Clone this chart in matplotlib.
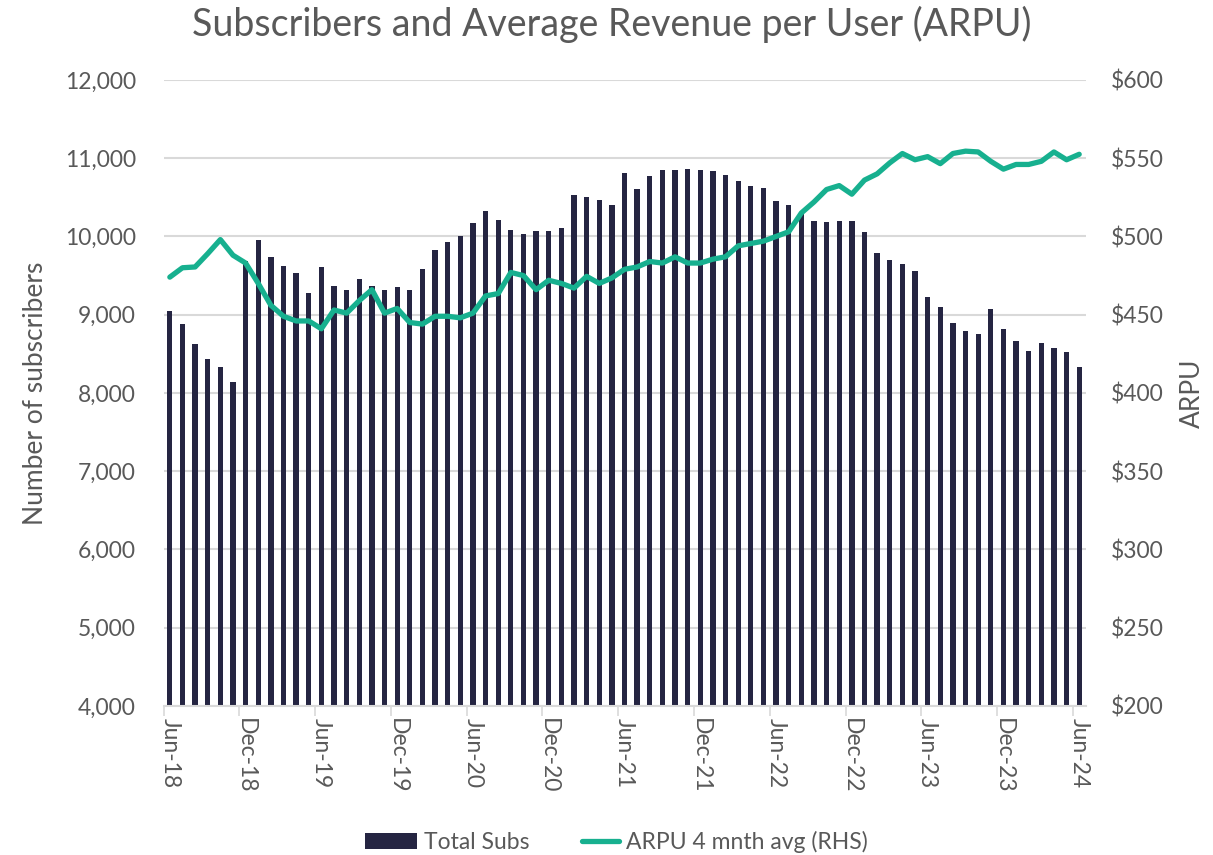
import matplotlib
matplotlib.use("Agg")
import matplotlib.pyplot as plt
import numpy as np
from matplotlib.ticker import FuncFormatter
from matplotlib.legend_handler import HandlerLine2D

months = ["Jun-18","Jul-18","Aug-18","Sep-18","Oct-18","Nov-18","Dec-18",
          "Jan-19","Feb-19","Mar-19","Apr-19","May-19","Jun-19","Jul-19","Aug-19","Sep-19","Oct-19","Nov-19","Dec-19",
          "Jan-20","Feb-20","Mar-20","Apr-20","May-20","Jun-20","Jul-20","Aug-20","Sep-20","Oct-20","Nov-20","Dec-20",
          "Jan-21","Feb-21","Mar-21","Apr-21","May-21","Jun-21","Jul-21","Aug-21","Sep-21","Oct-21","Nov-21","Dec-21",
          "Jan-22","Feb-22","Mar-22","Apr-22","May-22","Jun-22","Jul-22","Aug-22","Sep-22","Oct-22","Nov-22","Dec-22",
          "Jan-23","Feb-23","Mar-23","Apr-23","May-23","Jun-23","Jul-23","Aug-23","Sep-23","Oct-23","Nov-23","Dec-23",
          "Jan-24","Feb-24","Mar-24","Apr-24","May-24","Jun-24"]

total_subs = [9050, 8880, 8620, 8440, 8330, 8140, 9680,
              9960, 9740, 9620, 9530, 9275, 9610, 9370, 9310, 9455, 9370, 9315, 9350,
              9310, 9580, 9830, 9925, 10005, 10175, 10320, 10205, 10080, 10025, 10070, 10070,
              10110, 10535, 10510, 10465, 10405, 10810, 10610, 10775, 10845, 10845, 10865, 10855,
              10840, 10790, 10705, 10645, 10620, 10455, 10405, 10300, 10200, 10180, 10195, 10195,
              10060, 9790, 9695, 9645, 9555, 9225, 9100, 8900, 8790, 8755, 9075, 8820,
              8670, 8535, 8635, 8580, 8525, 8330]

arpu_4m = [474, 480, 480.5, 489, 498, 488, 483,
           470, 456, 449, 446, 446, 441, 453, 451, 459, 466, 451, 454,
           445, 444, 449, 449, 448, 451, 462, 463.5, 477, 475, 466, 472,
           470, 467, 474.5, 470, 473.5, 479, 480.5, 484, 483, 487, 483, 483,
           485.5, 487, 494, 495.5, 497, 500, 503, 515, 522, 530, 532.5, 527,
           536, 540, 547, 553, 549, 551, 546.5, 553, 554.5, 554, 548, 543,
           546, 546, 548, 554, 549, 552.5]

label_every = 6
title = "Subscribers and Average Revenue per User (ARPU)"

FONT = ["Lato", "DejaVu Sans"]
TXT = "#595959"
BAR_C = "#252542"
LINE_C = "#17B08F"
GRID_C = "#D9D9D9"

plt.rcParams['font.family'] = FONT


class ShortLine(HandlerLine2D):
    def create_artists(self, legend, orig_handle, xdescent, ydescent, width, height, fontsize, trans):
        new_w = width * 0.7
        return super().create_artists(legend, orig_handle, xdescent - (width - new_w), ydescent,
                                      new_w, height, fontsize, trans)


fig = plt.figure(figsize=(12.13, 8.55), dpi=100)
ax = fig.add_axes([0.1348, 0.1743, 0.7601, 0.7322])
ax2 = ax.twinx()

x = np.arange(len(months))
ax.bar(x, total_subs, width=0.42, color=BAR_C, zorder=2, label="Total Subs")
line, = ax2.plot(x, arpu_4m, color=LINE_C, lw=3.8, solid_joinstyle='round', solid_capstyle='round',
                 zorder=3, label="ARPU 4 mnth avg (RHS)")

ax.set_xlim(-0.5, len(months) - 0.5)
ax.set_ylim(4000, 12000)
ax2.set_ylim(200, 600)
ax.set_yticks(np.arange(4000, 12001, 1000))
ax2.set_yticks(np.arange(200, 601, 50))
ax.yaxis.set_major_formatter(FuncFormatter(lambda v, p: f"{v:,.0f}"))
ax2.yaxis.set_major_formatter(FuncFormatter(lambda v, p: f"${v:,.0f}"))

ax.grid(axis='y', color=GRID_C, lw=1.5, zorder=0)
ax.set_axisbelow(True)

tick_pos = x[::label_every]
ax.set_xticks(tick_pos)
ax.set_xticklabels([months[i] for i in tick_pos], rotation=-90, fontsize=16.5, color=TXT)
ax.tick_params(axis='x', which='major', length=0, pad=9)
ax.set_xticks(tick_pos - 0.5, minor=True)
ax.tick_params(axis='x', which='minor', length=7, width=1.2, color=GRID_C)

ax.tick_params(axis='y', length=0, labelsize=16.5, labelcolor=TXT, pad=20)
ax2.tick_params(axis='y', length=0, labelsize=16.5, labelcolor=TXT, pad=18)

for a in (ax, ax2):
    for s in a.spines.values():
        s.set_visible(False)
ax.spines['bottom'].set_visible(True)
ax.spines['bottom'].set_color(GRID_C)
ax.spines['bottom'].set_linewidth(1.5)

ax.set_ylabel("Number of subscribers", fontsize=19, color=TXT, labelpad=12)
ax2.set_ylabel("ARPU", fontsize=19, color=TXT, labelpad=12)

fig.text(0.504, 0.971, title, ha='center', va='center', fontsize=27, color=TXT)

h1, l1 = ax.get_legend_handles_labels()
h2, l2 = ax2.get_legend_handles_labels()
leg = fig.legend(h1 + h2, l1 + l2, loc='center', bbox_to_anchor=(0.508, 0.015), ncol=2,
                 frameon=False, fontsize=16.5, handlelength=2.3, handletextpad=0.3,
                 columnspacing=1.6, labelcolor=TXT,
                 handler_map={line: ShortLine()})

fig.savefig("out.png", dpi=100, facecolor="white")
